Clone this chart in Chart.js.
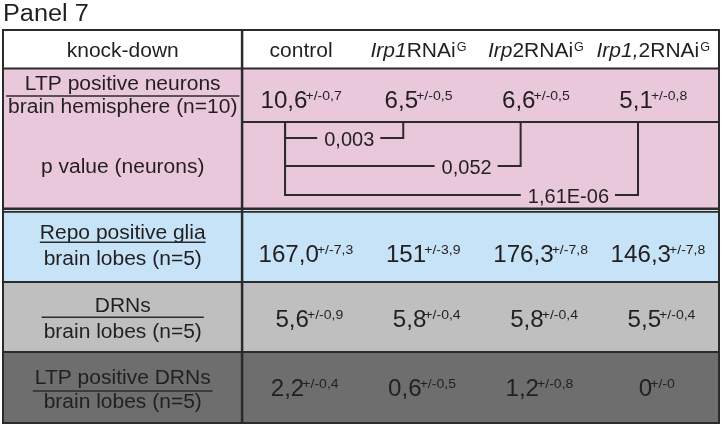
<!DOCTYPE html>
<html>
<head>
<meta charset="utf-8">
<script src="https://cdn.jsdelivr.net/npm/chart.js@4.4.0/dist/chart.umd.min.js"></script>
<style>
    html, body { margin: 0; padding: 0; background: #fff; }
</style>
</head>
<body>
<canvas id="myChart" width="722" height="426"></canvas>
<script>
// Table content
const panelTitle = 'Panel 7';
const cornerLabel = 'knock-down';
const groupItalic = ['', 'Irp1', 'Irp', 'Irp1,'];
const groupPlain = ['control', 'RNAi', '2RNAi', '2RNAi'];
const groupSup = ['', 'G', 'G', 'G'];

const rowNames = ['LTP positive neurons', 'Repo positive glia', 'DRNs', 'LTP positive DRNs'];
const rowUnits = ['brain hemisphere (n=10)', 'brain lobes (n=5)', 'brain lobes (n=5)', 'brain lobes (n=5)'];

// Means and +/- errors per knock-down
const ltpNeurons = ['10,6', '6,5', '6,6', '5,1'];
const ltpNeuronsErr = ['0,7', '0,5', '0,5', '0,8'];
const repoGlia = ['167,0', '151', '176,3', '146,3'];
const repoGliaErr = ['7,3', '3,9', '7,8', '7,8'];
const drns = ['5,6', '5,8', '5,8', '5,5'];
const drnsErr = ['0,9', '0,4', '0,4', '0,4'];
const ltpDrns = ['2,2', '0,6', '1,2', '0'];
const ltpDrnsErr = ['0,4', '0,5', '0,8', '0'];

// p values (neurons), each vs control
const pLabel = 'p value (neurons)';
const pTargets = [1, 2, 3];
const pValues = ['0,003', '0,052', '1,61E-06'];

const valueRows = [ltpNeurons, repoGlia, drns, ltpDrns];
const errRows = [ltpNeuronsErr, repoGliaErr, drnsErr, ltpDrnsErr];

// Layout: x in column units (control = 0), y in table units from the top rule
const xLeft = -2.54, xRight = 3.56, xDivider = -0.503, xLabel = -1.52;
const rowEdges = [0, 38.5, 180.5, 252, 322, 393];
const rowFills = ['#ffffff', '#e9c8dc', '#c6e3f7', '#bfbfbf', '#6e6e6e'];
const headerY = 27;
const valueY = [78, 232, 297, 366];
const valueShift = [0, 0.04, 0.07, 0.03];
const nameY = [60, 209.3, 281.7, 354.3];
const unitY = [83, 235, 308, 378.3];
const ruleY = [66, 212.3, 287.3, 361];
const ruleUnder = [false, true, false, false];
const pLabelY = 143;
const bracketTop = 92, bracketLeft = -0.137, bracketY = [108, 136, 165];

const FONT = '"Liberation Sans", Arial, Helvetica, sans-serif';
const ink = '#231f20';
const rule = '#2b2b2b';

const labelFont = { font: '20px ' + FONT, s: 1.05 };
const valueFont = { font: '23px ' + FONT, s: 1.05 };
const supFont = { font: '13px ' + FONT, s: 1.08, dy: -8, gap: -2 };

// Draw a list of text runs (each with its own font / stretch / shift)
function drawRuns(ctx, runs, x, y, align) {
    let total = 0;
    runs.forEach(function(r) {
        ctx.font = r.font;
        r.w = ctx.measureText(r.t).width * (r.s || 1);
        total += r.w + (r.gap || 0);
    });
    let cx = align === 'center' ? x - total / 2 : (align === 'right' ? x - total : x);
    const start = cx;
    runs.forEach(function(r) {
        cx += r.gap || 0;
        ctx.save();
        ctx.font = r.font;
        ctx.fillStyle = r.color || ink;
        ctx.textAlign = 'left';
        ctx.textBaseline = 'alphabetic';
        ctx.translate(cx, y + (r.dy || 0));
        ctx.scale(r.s || 1, 1);
        ctx.fillText(r.t, 0, 0);
        ctx.restore();
        cx += r.w;
    });
    return { left: start, right: start + total, width: total };
}

function hLine(ctx, x1, x2, y, w) {
    ctx.beginPath();
    ctx.lineWidth = w;
    ctx.strokeStyle = rule;
    ctx.moveTo(x1, y);
    ctx.lineTo(x2, y);
    ctx.stroke();
}

const tablePlugin = {
    id: 'tablePlugin',
    beforeDatasetsDraw(chart) {
        const ctx = chart.ctx;
        const xs = chart.scales.x, ys = chart.scales.y;
        const L = xs.getPixelForValue(xLeft), R = xs.getPixelForValue(xRight);
        const D = xs.getPixelForValue(xDivider);
        ctx.save();
        // row backgrounds
        for (let i = 0; i < rowFills.length; i++) {
            const t = ys.getPixelForValue(rowEdges[i]);
            const b = ys.getPixelForValue(rowEdges[i + 1]);
            ctx.fillStyle = rowFills[i];
            ctx.fillRect(L, t, R - L, b - t);
        }
        // rules
        hLine(ctx, L, R, ys.getPixelForValue(rowEdges[1]), 2);
        hLine(ctx, D, R, ys.getPixelForValue(bracketTop), 2);
        hLine(ctx, L, R, ys.getPixelForValue(178.8), 2.5);
        hLine(ctx, L, R, ys.getPixelForValue(181.9), 1.8);
        hLine(ctx, L, R, ys.getPixelForValue(rowEdges[3]), 2);
        hLine(ctx, L, R, ys.getPixelForValue(rowEdges[4]), 2);
        ctx.beginPath();
        ctx.lineWidth = 2.5;
        ctx.strokeStyle = rule;
        ctx.moveTo(D, ys.getPixelForValue(rowEdges[0]));
        ctx.lineTo(D, ys.getPixelForValue(rowEdges[5]));
        ctx.stroke();
        ctx.lineWidth = 2;
        ctx.strokeRect(L, ys.getPixelForValue(rowEdges[0]), R - L,
            ys.getPixelForValue(rowEdges[5]) - ys.getPixelForValue(rowEdges[0]));
        ctx.restore();
    },
    afterDatasetsDraw(chart) {
        const ctx = chart.ctx;
        const xs = chart.scales.x, ys = chart.scales.y;
        const lx = xs.getPixelForValue(xLabel);
        ctx.save();

        // title
        drawRuns(ctx, [{ t: panelTitle, font: '23px ' + FONT, s: 1.1 }],
            xs.getPixelForValue(xLeft), ys.getPixelForValue(-9), 'left');

        // left column labels
        drawRuns(ctx, [{ t: cornerLabel, font: labelFont.font, s: labelFont.s }], lx, ys.getPixelForValue(headerY), 'center');
        drawRuns(ctx, [{ t: pLabel, font: labelFont.font, s: labelFont.s }], lx, ys.getPixelForValue(pLabelY), 'center');
        rowNames.forEach(function(name, r) {
            const a = drawRuns(ctx, [{ t: name, font: labelFont.font, s: labelFont.s }], lx, ys.getPixelForValue(nameY[r]), 'center');
            const b = drawRuns(ctx, [{ t: rowUnits[r], font: labelFont.font, s: labelFont.s }], lx, ys.getPixelForValue(unitY[r]), 'center');
            const w = ruleUnder[r] ? a.width : Math.max(a.width, b.width) + 4;
            hLine(ctx, lx - w / 2, lx + w / 2, ys.getPixelForValue(ruleY[r]), 1.6);
        });

        // header and value cells from the point datasets
        chart.data.datasets.forEach(function(ds, d) {
            if (!ds.cells) return;
            const meta = chart.getDatasetMeta(d);
            meta.data.forEach(function(pt, i) {
                let runs;
                if (ds.cells === 'header') {
                    runs = [];
                    if (groupItalic[i]) runs.push({ t: groupItalic[i], font: 'italic ' + labelFont.font, s: labelFont.s });
                    runs.push({ t: groupPlain[i], font: labelFont.font, s: labelFont.s });
                    if (groupSup[i]) runs.push({ t: groupSup[i], font: '12px ' + FONT, s: 1.05, dy: -6, gap: 1 });
                } else {
                    runs = [
                        { t: ds.texts[i], font: valueFont.font, s: valueFont.s },
                        { t: '+/-' + ds.errs[i], font: supFont.font, s: supFont.s, dy: supFont.dy, gap: supFont.gap }
                    ];
                }
                drawRuns(ctx, runs, pt.x, pt.y, 'center');
            });
        });

        // p values sitting on the bracket lines
        pValues.forEach(function(p, j) {
            const right = xs.getPixelForValue(pTargets[j] - 0.13) - 29;
            const y = ys.getPixelForValue(bracketY[j]);
            ctx.font = '20px ' + FONT;
            const w = ctx.measureText(p).width;
            ctx.fillStyle = rowFills[1];
            ctx.fillRect(right - w - 7, y - 3, w + 13, 6);
            drawRuns(ctx, [{ t: p, font: '20px ' + FONT, s: 1 }], right, y + 7.5, 'right');
        });
        ctx.restore();
    }
};

const datasets = [];
datasets.push({
    label: 'header',
    cells: 'header',
    data: groupPlain.map(function(g, i) { return { x: i, y: headerY }; }),
    pointRadius: 0,
    showLine: false
});
valueRows.forEach(function(row, r) {
    datasets.push({
        label: rowNames[r],
        cells: 'values',
        texts: row,
        errs: errRows[r],
        data: row.map(function(v, i) { return { x: i + valueShift[r], y: valueY[r] }; }),
        pointRadius: 0,
        showLine: false
    });
});
pTargets.forEach(function(t, j) {
    datasets.push({
        label: 'p ' + pValues[j],
        data: [
            { x: t - 0.13, y: bracketTop },
            { x: t - 0.13, y: bracketY[j] },
            { x: bracketLeft, y: bracketY[j] },
            { x: bracketLeft, y: bracketTop }
        ],
        showLine: true,
        borderColor: rule,
        borderWidth: 2,
        pointRadius: 0,
        tension: 0
    });
});

const ctx = document.getElementById('myChart').getContext('2d');
const myChart = new Chart(ctx, {
    type: 'scatter',
    data: { datasets: datasets },
    options: {
        responsive: false,
        animation: false,
        devicePixelRatio: 1,
        layout: { padding: { top: 30, left: 3, right: 3, bottom: 3 } },
        scales: {
            x: { type: 'linear', min: xLeft, max: xRight, display: false },
            y: { type: 'linear', min: 0, max: 393, reverse: true, display: false }
        },
        plugins: {
            legend: { display: false },
            tooltip: { enabled: false },
            title: { display: false }
        }
    },
    plugins: [tablePlugin]
});
</script>
</body>
</html>
